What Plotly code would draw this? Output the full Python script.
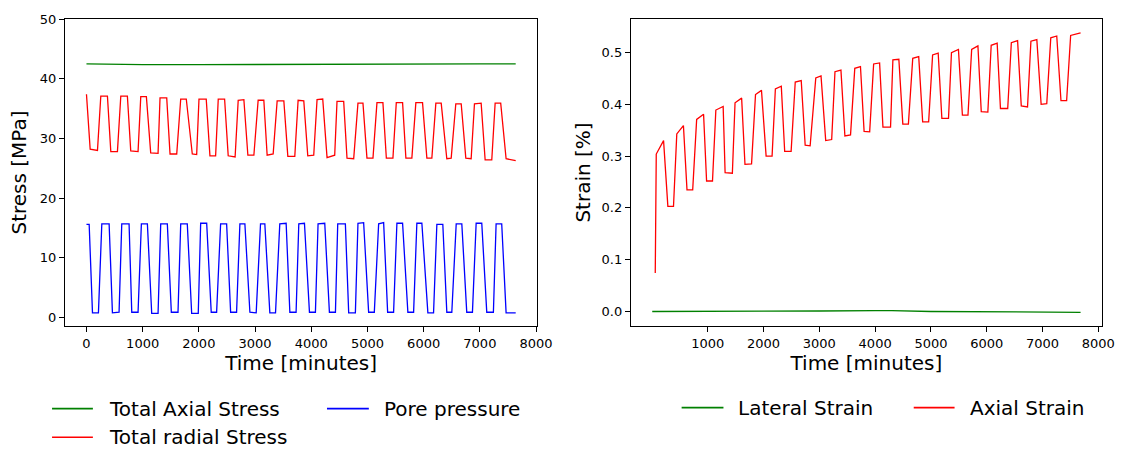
import plotly.graph_objects as go

# ---------------- data ----------------
# Left panel: stresses [MPa] vs time [minutes]
axial_stress_t = [0, 1000, 2000, 3000, 4000, 5000, 6000, 7000, 7638]
axial_stress_v = [42.5, 42.35, 42.35, 42.4, 42.45, 42.5, 42.5, 42.5, 42.5]

radial_stress_t = [0, 66, 196, 255, 373, 433, 551, 611, 728, 788, 918, 966, 1066, 1143, 1274,
                   1309, 1428, 1487, 1606, 1677, 1776, 1883, 1961, 2002, 2131, 2197, 2298, 2345,
                   2458, 2522, 2645, 2700, 2801, 2872, 2979, 3055, 3156, 3215, 3322, 3393, 3512,
                   3583, 3707, 3766, 3867, 3938, 4044, 4103, 4204, 4281, 4417, 4458, 4577, 4636,
                   4755, 4831, 4920, 4991, 5098, 5169, 5275, 5336, 5453, 5513, 5625, 5684, 5790,
                   5861, 5980, 6057, 6146, 6217, 6312, 6412, 6490, 6572, 6668, 6750, 6845, 6904,
                   7023, 7094, 7212, 7272, 7371, 7467, 7638]
radial_stress_v = [37.4,
                   28.2, 28.0, 37.1, 37.1,
                   27.8, 27.8, 37.1, 37.1,
                   27.9, 27.8, 37.0, 37.0,
                   27.6, 27.5, 36.8, 36.8,
                   27.4, 27.4, 36.6, 36.6,
                   27.4, 27.3, 36.6, 36.6,
                   27.1, 27.1, 36.6, 36.6,
                   27.1, 26.9, 36.4, 36.5,
                   27.2, 27.2, 36.4, 36.4,
                   27.2, 27.4, 36.3, 36.3,
                   27.0, 27.0, 36.4, 36.3,
                   27.1, 27.2, 36.5, 36.6,
                   26.8, 27.2, 36.2, 36.2,
                   26.7, 26.6, 35.9, 35.9,
                   26.7, 26.7, 36.0, 36.0,
                   26.7, 26.7, 36.0, 36.0,
                   26.7, 26.7, 36.0, 36.0,
                   26.7, 26.7, 35.9, 35.9,
                   26.6, 26.7, 35.8, 35.8,
                   26.7, 26.6, 35.8, 35.9,
                   26.4, 26.4, 35.9, 35.9,
                   26.6, 26.3]

pore_pressure_t = [0, 48, 107, 213, 273, 403, 462, 580, 628, 758, 806, 918, 977, 1084, 1161, 1274,
                   1321, 1439, 1510, 1629, 1677, 1794, 1872, 1989, 2032, 2139, 2220, 2316, 2387,
                   2494, 2565, 2671, 2730, 2819, 2908, 3020, 3097, 3174, 3263, 3364, 3440, 3553,
                   3619, 3730, 3778, 3879, 3968, 4074, 4121, 4240, 4323, 4430, 4471, 4607, 4666,
                   4785, 4831, 4932, 5021, 5122, 5199, 5288, 5359, 5465, 5524, 5625, 5719, 5821,
                   5879, 5968, 6075, 6176, 6235, 6341, 6412, 6501, 6579, 6679, 6767, 6868, 6934,
                   7034, 7123, 7241, 7289, 7389, 7467, 7638]
pore_pressure_v = [15.6, 15.6,
                   0.8, 0.8, 15.7, 15.7,
                   0.8, 0.9, 15.7, 15.7,
                   0.9, 0.9, 15.7, 15.7,
                   0.7, 0.7, 15.7, 15.7,
                   0.9, 0.9, 15.7, 15.7,
                   0.7, 0.7, 15.8, 15.8,
                   0.9, 0.9, 15.7, 15.7,
                   0.9, 0.9, 15.7, 15.7,
                   0.9, 0.8, 15.7, 15.7,
                   0.8, 0.8, 15.7, 15.8,
                   0.9, 0.9, 15.7, 15.8,
                   0.9, 0.9, 15.7, 15.8,
                   0.9, 0.9, 15.7, 15.7,
                   0.8, 0.8, 15.8, 15.9,
                   0.9, 0.9, 15.7, 15.9,
                   0.9, 0.9, 15.8, 15.8,
                   0.9, 0.9, 15.8, 15.8,
                   0.8, 0.8, 15.6, 15.6,
                   0.9, 0.9, 15.7, 15.7,
                   0.9, 0.9, 15.8, 15.8,
                   0.9, 0.9, 15.7, 15.7,
                   0.8, 0.8]

# Right panel: strains [%] vs time [minutes]
lateral_strain_t = [5, 1000, 2000, 3000, 4000, 4300, 5000, 6000, 7000, 7682]
lateral_strain_v = [0.0, 0.0, 0.0005, 0.001, 0.0015, 0.0015, 0.0, -0.0005, -0.001, -0.0015]

axial_strain_t = [59, 77, 208,
                  285, 386, 445, 564, 628, 730, 801, 925, 979, 1085, 1145, 1276,
                  1311, 1441, 1489, 1607, 1667, 1785, 1856, 1963, 2046, 2153, 2212, 2318,
                  2379, 2494, 2568, 2675, 2746, 2835, 2936, 3030, 3114, 3221, 3280, 3387,
                  3458, 3559, 3635, 3737, 3802, 3902, 3973, 4080, 4140, 4276, 4318, 4425,
                  4496, 4596, 4674, 4781, 4852, 4959, 5030, 5130, 5196, 5315, 5368, 5493,
                  5564, 5664, 5730, 5842, 5902, 6020, 6080, 6187, 6246, 6376, 6441, 6553,
                  6619, 6731, 6792, 6898, 6975, 7076, 7148, 7255, 7331, 7432, 7504, 7682]
axial_strain_v = [0.0745, 0.304, 0.330,
                  0.203, 0.203, 0.343, 0.359,
                  0.235, 0.235, 0.371, 0.381,
                  0.252, 0.252, 0.389, 0.396,
                  0.268, 0.267, 0.403, 0.412,
                  0.284, 0.285, 0.419, 0.427,
                  0.300, 0.300, 0.430, 0.435,
                  0.309, 0.309, 0.443, 0.446,
                  0.321, 0.320, 0.451, 0.455,
                  0.330, 0.332, 0.463, 0.466,
                  0.339, 0.341, 0.4695, 0.473,
                  0.348, 0.347, 0.478, 0.480,
                  0.356, 0.356, 0.486, 0.487,
                  0.362, 0.362, 0.489, 0.492,
                  0.366, 0.366, 0.4955, 0.499,
                  0.373, 0.373, 0.500, 0.506,
                  0.379, 0.379, 0.506, 0.513,
                  0.386, 0.385, 0.514, 0.518,
                  0.392, 0.392, 0.519, 0.523,
                  0.397, 0.395, 0.522, 0.525,
                  0.400, 0.4015, 0.5285, 0.532,
                  0.407, 0.407, 0.533, 0.538]

assert len(radial_stress_t) == len(radial_stress_v)
assert len(pore_pressure_t) == len(pore_pressure_v)
assert len(axial_strain_t) == len(axial_strain_v)

# tick labels
left_x_ticks = [0, 1000, 2000, 3000, 4000, 5000, 6000, 7000, 8000]
right_x_ticks = [1000, 2000, 3000, 4000, 5000, 6000, 7000, 8000]
left_y_ticks = [0, 10, 20, 30, 40, 50]
right_y_ticks = [0.0, 0.1, 0.2, 0.3, 0.4, 0.5]

# ---------------- figure ----------------
W, H = 1129, 450
ML, MR, MT, MB = 65, 23, 14, 124
PW, PH = W - ML - MR, H - MT - MB
FONT = "DejaVu Sans"
LW = 1.3
TITLE_SIZE = 20
LEGEND_SIZE = 20

def px_x(px):
    return (px - ML) / PW

def px_y(py):
    return (H - MB - py) / PH

fig = go.Figure()
fig.add_trace(go.Scatter(x=axial_stress_t, y=axial_stress_v, mode="lines", name="Total Axial Stress",
                         line=dict(color="#008000", width=LW), xaxis="x", yaxis="y"))
fig.add_trace(go.Scatter(x=radial_stress_t, y=radial_stress_v, mode="lines", name="Total radial Stress",
                         line=dict(color="#ff0000", width=LW), xaxis="x", yaxis="y"))
fig.add_trace(go.Scatter(x=pore_pressure_t, y=pore_pressure_v, mode="lines", name="Pore pressure",
                         line=dict(color="#0000ff", width=LW), xaxis="x", yaxis="y"))
fig.add_trace(go.Scatter(x=lateral_strain_t, y=lateral_strain_v, mode="lines", name="Lateral Strain",
                         line=dict(color="#008000", width=LW), xaxis="x2", yaxis="y2"))
fig.add_trace(go.Scatter(x=axial_strain_t, y=axial_strain_v, mode="lines", name="Axial Strain",
                         line=dict(color="#ff0000", width=LW), xaxis="x2", yaxis="y2"))

axis_common = dict(showline=True, mirror=True, linecolor="black", linewidth=1,
                   ticks="outside", ticklen=5, tickwidth=1, tickcolor="black",
                   showgrid=False, zeroline=False,
                   tickfont=dict(family=FONT, size=13, color="black"))
title_font = dict(family=FONT, size=TITLE_SIZE, color="black")

fig.update_layout(
    width=W, height=H,
    margin=dict(l=ML, r=MR, t=MT, b=MB),
    paper_bgcolor="white", plot_bgcolor="white",
    showlegend=False,
    font=dict(family=FONT, color="black"),
    xaxis=dict(domain=[0, px_x(539)], range=[-382, 8020], tickvals=left_x_ticks,
               ticktext=[str(v) for v in left_x_ticks], anchor="y",
               title=dict(text="Time [minutes]", font=title_font, standoff=6),
               **axis_common),
    yaxis=dict(domain=[0, 1], range=[-1.4, 50], tickvals=left_y_ticks,
               ticktext=[str(v) for v in left_y_ticks], anchor="x",
               title=dict(text="Stress [MPa]", font=title_font, standoff=7),
               **axis_common),
    xaxis2=dict(domain=[px_x(633), 1], range=[-379, 8066], tickvals=right_x_ticks,
                ticktext=[str(v) for v in right_x_ticks], anchor="y2",
                title=dict(text="Time [minutes]", font=title_font, standoff=6),
                **axis_common),
    yaxis2=dict(domain=[0, 1], range=[-0.028, 0.5648], tickvals=right_y_ticks,
                ticktext=[f"{v:.1f}" for v in right_y_ticks], anchor="x2",
                title=dict(text="Strain [%]", font=title_font, standoff=5),
                **axis_common),
)

# manual legends (line sample + label), laid out like the reference
legend_items = [
    (52, 93, 410, "#008000", 110, "Total Axial Stress"),
    (328, 370, 410, "#0000ff", 386, "Pore pressure"),
    (52, 93, 439, "#ff0000", 110, "Total radial Stress"),
    (684, 726, 409, "#008000", 742, "Lateral Strain"),
    (917, 958, 409, "#ff0000", 974, "Axial Strain"),
]
for x0, x1, yy, col, tx, label in legend_items:
    fig.add_shape(type="line", xref="paper", yref="paper",
                  x0=px_x(x0), x1=px_x(x1), y0=px_y(yy), y1=px_y(yy),
                  line=dict(color=col, width=1.6))
    fig.add_annotation(xref="paper", yref="paper", x=px_x(tx - 3), y=px_y(yy),
                       xanchor="left", yanchor="middle", showarrow=False, text=label,
                       font=dict(family=FONT, size=LEGEND_SIZE, color="black"))

fig.write_html("out.html")
